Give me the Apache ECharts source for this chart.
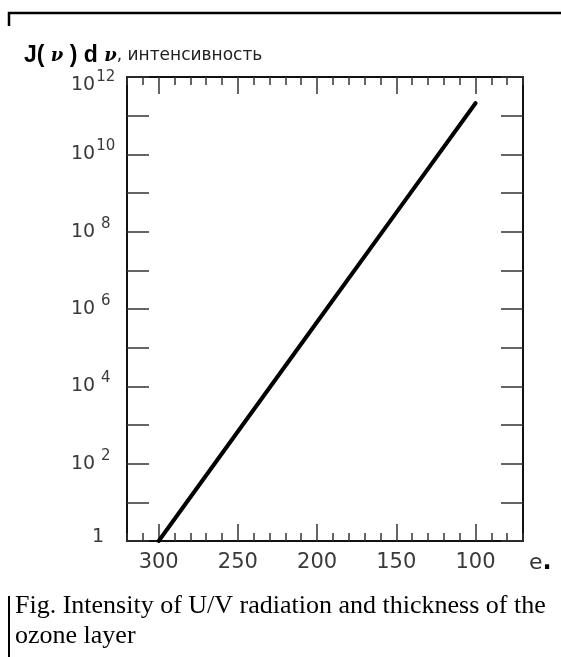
<!DOCTYPE html>
<html>
<head>
<meta charset="utf-8">
<script src="https://cdn.jsdelivr.net/npm/echarts@6/dist/echarts.min.js"></script>
<style>
html,body{margin:0;padding:0;background:#fff;}
#chart{width:561px;height:657px;}
</style>
</head>
<body>
<div id="chart"></div>
<script>
// ---- data ----
const wavelengths = [300, 250, 200, 150, 100];          // x values (e.)
const intensity   = [1, 680, 4.6e5, 3.1e8, 2.1e11];      // J(ν)dν
const xMajorTicks = [100, 150, 200, 250, 300];
const xTickLabels = ['100', '150', '200', '250', '300'];
const yLabelExponents = [0, 2, 4, 6, 8, 10, 12];
const titleText = 'интенсивность';
const xUnitText = 'e';
const captionLines = ['Fig. Intensity of U/V radiation and thickness of the', 'ozone layer'];

const chart = echarts.init(document.getElementById('chart'), null, {renderer: 'canvas'});

const AX = '#111';
const TK = '#333';
const LBL = '#3a3a3a';
const grid = {left: 127, top: 77, right: 38, bottom: 116, outerBoundsMode: 'none', containLabel: false};

function xAxisBase(pos) {
  return {
    type: 'value', position: pos, min: 70, max: 320, inverse: true,
    splitLine: {show: false}, gridIndex: 0
  };
}

const xAxes = [
  Object.assign(xAxisBase('bottom'), {
    axisLine: {show: true, lineStyle: {color: AX, width: 2}},
    axisTick: {show: true, inside: true, length: 17, lineStyle: {color: TK, width: 1.5}, customValues: xMajorTicks},
    axisLabel: {show: true, customValues: xMajorTicks, margin: 11, color: LBL,
      fontFamily: 'DejaVu Sans', fontSize: 21,
      formatter: v => xTickLabels[xMajorTicks.indexOf(v)] || ''}
  }),
  Object.assign(xAxisBase('bottom'), {
    interval: 10,
    axisLine: {show: false},
    axisTick: {show: true, inside: true, length: 8, lineStyle: {color: TK, width: 1.5}},
    axisLabel: {show: false}
  }),
  Object.assign(xAxisBase('top'), {
    axisLine: {show: true, lineStyle: {color: AX, width: 2}},
    axisTick: {show: true, inside: true, length: 17, lineStyle: {color: TK, width: 1.5}, customValues: xMajorTicks},
    axisLabel: {show: false}
  }),
  Object.assign(xAxisBase('top'), {
    interval: 10,
    axisLine: {show: false},
    axisTick: {show: true, inside: true, length: 8, lineStyle: {color: TK, width: 1.5}},
    axisLabel: {show: false}
  })
];

function yLabel(v) {
  const e = Math.round(Math.log10(v));
  if (yLabelExponents.indexOf(e) < 0) return '';
  if (e === 0) return '{one|1}';
  if (e === 12) return '{b12|10}{s12|12}';
  if (e >= 10) return '{b|10}{s|' + e + '}';
  return '{b|10}{s| ' + e + '}';
}

const F = 'DejaVu Sans';
const yAxes = [
  {
    type: 'log', logBase: 10, min: 1, max: 1e12, interval: 1, splitNumber: 12, position: 'left',
    splitLine: {show: false},
    axisLine: {show: true, lineStyle: {color: AX, width: 2}},
    axisTick: {show: true, inside: true, length: 22, lineStyle: {color: TK, width: 1.5}},
    axisLabel: {
      show: true, align: 'left', margin: 56, color: LBL, formatter: yLabel,
      rich: {
        b: {fontFamily: F, fontSize: 19, color: LBL, lineHeight: 22, verticalAlign: 'middle'},
        s: {fontFamily: F, fontSize: 15, color: LBL, lineHeight: 20, verticalAlign: 'middle', padding: [0, 0, 16, 1]},
        b12: {fontFamily: F, fontSize: 19, color: LBL, lineHeight: 22, verticalAlign: 'middle', padding: [16, 0, 0, 0]},
        s12: {fontFamily: F, fontSize: 15, color: LBL, lineHeight: 20, verticalAlign: 'middle', padding: [0, 0, 0, 1]},
        one: {fontFamily: F, fontSize: 19, color: LBL, padding: [0, 0, 8, 21]}
      }
    }
  },
  {
    type: 'log', logBase: 10, min: 1, max: 1e12, interval: 1, splitNumber: 12, position: 'right',
    splitLine: {show: false},
    axisLine: {show: true, lineStyle: {color: AX, width: 2}},
    axisTick: {show: true, inside: true, length: 22, lineStyle: {color: TK, width: 1.5}},
    axisLabel: {show: false}
  }
];

const option = {
  backgroundColor: '#fff',
  animation: false,
  grid: grid,
  xAxis: xAxes,
  yAxis: yAxes,
  series: [{
    type: 'line', xAxisIndex: 0, yAxisIndex: 0,
    data: wavelengths.map((w, i) => [w, intensity[i]]),
    showSymbol: false, symbol: 'none',
    lineStyle: {color: '#000', width: 4, cap: 'round'}
  }],
  graphic: [
    {type: 'polyline', shape: {points: [[9, 26], [9, 13], [561, 13]]}, style: {stroke: '#000', lineWidth: 2.5, fill: null}},
    {type: 'line', shape: {x1: 9, y1: 596, x2: 9, y2: 657}, style: {stroke: '#000', lineWidth: 2}},
    {type: 'text', x: 24, y: 56, style: {
      text: '{b|J( }{nu|ν}{b| ) d }{nu|ν}{n|, ' + titleText + '}',
      verticalAlign: 'middle',
      rich: {
        b: {fontFamily: 'Liberation Sans', fontWeight: 'bold', fontSize: 23, fill: '#000'},
        nu: {fontFamily: 'DejaVu Serif', fontStyle: 'italic', fontWeight: 'bold', fontSize: 18, fill: '#000'},
        n: {fontFamily: 'DejaVu Sans', fontSize: 17, fill: '#222'}
      }
    }},
    {type: 'text', x: 529, y: 563, style: {
      text: '{e|' + xUnitText + '}{d|.}', verticalAlign: 'middle',
      rich: {
        e: {fontFamily: 'DejaVu Sans', fontSize: 22, fill: '#333'},
        d: {fontFamily: 'DejaVu Sans', fontWeight: 'bold', fontSize: 24, fill: '#000'}
      }
    }},
    {type: 'text', x: 15, y: 606, style: {text: captionLines[0], verticalAlign: 'middle', fontFamily: 'Liberation Serif', fontSize: 26, fill: '#000'}},
    {type: 'text', x: 15, y: 636, style: {text: captionLines[1], verticalAlign: 'middle', fontFamily: 'Liberation Serif', fontSize: 26, fill: '#000'}}
  ]
};
chart.setOption(option);
</script>
</body>
</html>
